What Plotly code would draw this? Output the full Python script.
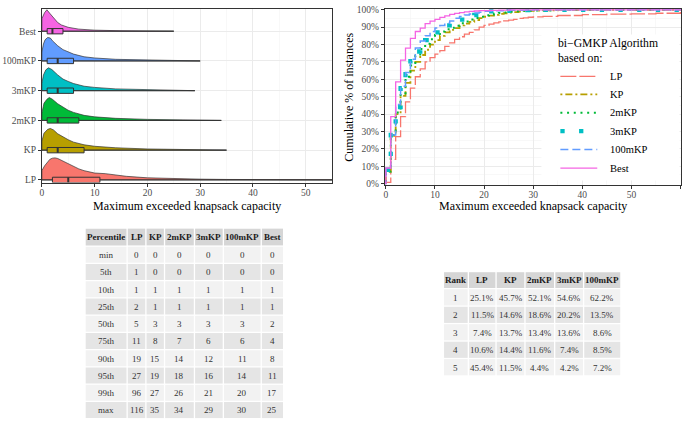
import plotly.graph_objects as go

W, H = 685, 425
SERIF = "Liberation Serif"

groups = ["LP", "KP", "2mKP", "3mKP", "100mKP", "Best"]
colors = ["#F8766D", "#B79F00", "#00BA38", "#00BFC4", "#619CFF", "#F564E3"]

# ---------------- percentile table ----------------
pct_labels = ["min", "5th", "10th", "25th", "50th", "75th", "90th", "95th", "99th", "max"]
pct_LP = [0, 1, 1, 2, 5, 11, 19, 27, 96, 116]
pct_KP = [0, 0, 1, 1, 3, 8, 15, 19, 27, 35]
pct_2mKP = [0, 0, 1, 1, 3, 7, 14, 18, 26, 34]
pct_3mKP = [0, 0, 1, 1, 3, 6, 12, 16, 21, 29]
pct_100mKP = [0, 0, 1, 1, 3, 6, 11, 14, 20, 30]
pct_Best = [0, 0, 1, 1, 2, 4, 8, 11, 17, 25]

# ---------------- rank table ----------------
rank_labels = ["1", "2", "3", "4", "5"]
rank_LP = ["25.1%", "11.5%", "7.4%", "10.6%", "45.4%"]
rank_KP = ["45.7%", "14.6%", "13.7%", "14.4%", "11.5%"]
rank_2mKP = ["52.1%", "18.6%", "13.4%", "11.6%", "4.4%"]
rank_3mKP = ["54.6%", "20.2%", "13.6%", "7.4%", "4.2%"]
rank_100mKP = ["62.2%", "13.5%", "8.6%", "8.5%", "7.2%"]

# ---------------- density ridges (height in units of row spacing) ----------------
dens_x_LP = [0, 0.5, 1, 1.5, 2, 2.5, 3, 4, 5, 6, 7, 8, 10, 12, 14, 16, 20, 25, 30, 35, 40, 50, 60]
dens_h_LP = [0.31, 0.47, 0.6, 0.69, 0.73, 0.74, 0.72, 0.63, 0.54, 0.45, 0.37, 0.31, 0.23, 0.21, 0.16,
             0.12, 0.07, 0.04, 0.025, 0.015, 0.01, 0.005, 0.003]
dens_x_KP = [0, 0.4, 1.1, 1.6, 2.2, 3, 4, 5, 6, 8, 10, 14, 20, 25, 30, 35]
dens_h_KP = [0.3, 0.57, 0.7, 0.73, 0.68, 0.55, 0.44, 0.35, 0.27, 0.18, 0.13, 0.08, 0.04, 0.02, 0.01, 0.0]
dens_x_2mKP = [0, 0.4, 0.95, 1.4, 2, 3, 4, 5, 6, 8, 10, 14, 20, 25, 30, 34]
dens_h_2mKP = [0.25, 0.58, 0.71, 0.77, 0.71, 0.56, 0.44, 0.34, 0.27, 0.17, 0.12, 0.07, 0.035, 0.018, 0.008, 0.0]
dens_x_3mKP = [0, 0.3, 0.75, 1.25, 1.9, 3, 4, 5, 6, 8, 10, 14, 20, 25, 29]
dens_h_3mKP = [0.25, 0.53, 0.7, 0.77, 0.71, 0.53, 0.39, 0.31, 0.24, 0.15, 0.11, 0.06, 0.03, 0.012, 0.0]
dens_x_100mKP = [0, 0.3, 0.6, 1.1, 1.6, 2, 3, 4, 5, 6, 8, 10, 14, 20, 25, 30]
dens_h_100mKP = [0.3, 0.57, 0.71, 0.79, 0.77, 0.68, 0.51, 0.38, 0.3, 0.23, 0.14, 0.1, 0.055, 0.025, 0.012, 0.0]
dens_x_Best = [0, 0.5, 0.95, 1.5, 2, 2.5, 3, 3.7, 5, 7, 10, 15, 20, 25]
dens_h_Best = [0.42, 0.62, 0.72, 0.6, 0.5, 0.38, 0.29, 0.21, 0.13, 0.07, 0.035, 0.015, 0.006, 0.0]

# ---------------- empirical CDFs (capacity, cumulative %) ----------------
ecdf_x_LP = [-1, 0, 1, 2, 3, 4, 5, 6, 7, 8, 9, 10, 11, 12, 13, 14, 15, 16, 17, 18, 19, 20, 21, 22, 23,
             24, 25, 26, 27, 28, 29, 30, 32, 35, 40, 45, 50, 55, 60, 96, 116]
ecdf_y_LP = [0, 0.8, 14, 27, 38.5, 47, 55, 61.5, 66, 70, 72.5, 74.5, 76.5, 79, 81, 83, 84.5, 86, 87,
             88.5, 90, 91, 91.8, 92.5, 93, 93.6, 94, 94.5, 95.1, 95.4, 95.7, 95.9, 96.2, 96.7, 97.2,
             97.5, 97.7, 98, 98.3, 99, 100]
ecdf_x_KP = [-1, 0, 1, 2, 3, 4, 5, 6, 7, 8, 9, 10, 11, 12, 13, 14, 15, 16, 17, 18, 19, 20, 21, 22, 23,
             24, 25, 26, 27, 28, 29, 30, 32, 35, 70]
ecdf_y_KP = [0, 7, 27.5, 40, 50.5, 58, 65, 70, 74, 77, 80, 82.5, 85, 87, 88.5, 89.5, 91, 92, 93, 94,
             95.2, 96, 96.6, 97.1, 97.6, 98, 98.4, 98.7, 99, 99.2, 99.4, 99.5, 99.7, 100, 100]
ecdf_x_2mKP = [-1, 0, 1, 2, 3, 4, 5, 6, 7, 8, 9, 10, 11, 12, 13, 14, 15, 16, 17, 18, 19, 20, 21, 22,
               23, 24, 25, 26, 28, 30, 34, 70]
ecdf_y_2mKP = [0, 7, 28, 41, 52, 61.5, 68, 73.5, 77.5, 80.5, 83, 85.5, 87.5, 88.8, 89.6, 90.8, 92.2,
               93.3, 94.4, 95.3, 96, 96.8, 97.3, 97.8, 98.2, 98.5, 98.8, 99.1, 99.4, 99.6, 100, 100]
ecdf_x_3mKP = [-1, 0, 1, 2, 3, 4, 5, 6, 7, 8, 9, 10, 11, 12, 13, 14, 15, 16, 17, 18, 19, 20, 21, 23,
               25, 27, 29, 70]
ecdf_y_3mKP = [0, 8, 28, 44, 55, 63, 70.5, 76, 79.5, 82.5, 85, 87, 89, 91, 92.3, 93.3, 94.3, 95.3,
               96.2, 97, 97.7, 98.3, 99.1, 99.4, 99.6, 99.8, 100, 100]
ecdf_x_100mKP = [-1, 0, 1, 2, 3, 4, 5, 6, 7, 8, 9, 10, 11, 12, 13, 14, 15, 16, 17, 18, 19, 20, 22,
                 25, 30, 70]
ecdf_y_100mKP = [0, 9, 28, 45.5, 56, 64, 71.5, 78, 82, 85, 87.5, 89.5, 91, 92.3, 93.5, 95.2, 96.2,
                 97, 97.6, 98.1, 98.6, 99.1, 99.4, 99.7, 100, 100]
ecdf_x_Best = [-1, 0, 1, 2, 3, 4, 5, 6, 7, 8, 9, 10, 11, 12, 13, 14, 15, 16, 17, 18, 19, 21, 23, 25, 70]
ecdf_y_Best = [0, 9, 38.5, 58.5, 71, 78, 83.5, 87.5, 89.5, 92, 93.5, 94.5, 95.6, 96.5, 97.3, 97.9,
               98.4, 98.8, 99.1, 99.3, 99.5, 99.7, 99.85, 100, 100]

pct_all = [pct_LP, pct_KP, pct_2mKP, pct_3mKP, pct_100mKP, pct_Best]
dens_all = [(dens_x_LP, dens_h_LP), (dens_x_KP, dens_h_KP), (dens_x_2mKP, dens_h_2mKP),
            (dens_x_3mKP, dens_h_3mKP), (dens_x_100mKP, dens_h_100mKP), (dens_x_Best, dens_h_Best)]
ecdf_all = [(ecdf_x_LP, ecdf_y_LP), (ecdf_x_KP, ecdf_y_KP), (ecdf_x_2mKP, ecdf_y_2mKP),
            (ecdf_x_3mKP, ecdf_y_3mKP), (ecdf_x_100mKP, ecdf_y_100mKP), (ecdf_x_Best, ecdf_y_Best)]

line_styles = [
    dict(dash="16px,3px", width=1.3),
    dict(dash="2px,3px,7px,3px", width=1.8),
    dict(dash="2px,4.7px", width=2),
    dict(dash="4.3px,14.4px", width=4.3),
    dict(dash="8px,4px", width=1.5),
    dict(dash="solid", width=1.3),
]

OUT = "#333333"
BOXH = 0.09


def PX(x):
    return x / W


def PY(y):
    return 1 - y / H


fig = go.Figure()

# ---- ridges ----
for i in range(len(groups) - 1, -1, -1):
    dx, dh = dens_all[i]
    xs = [dx[0]] + dx + [dx[-1], dx[0]]
    ys = [i] + [i + h for h in dh] + [i, i]
    fig.add_trace(go.Scatter(x=xs, y=ys, mode="lines", fill="toself", fillcolor=colors[i],
                             line=dict(color=OUT, width=0.7), showlegend=False,
                             xaxis="x", yaxis="y"))
# ---- boxes ----
for i, g in enumerate(groups):
    p = pct_all[i]
    fig.add_trace(go.Scatter(x=[p[0], p[9]], y=[i, i], mode="lines",
                             line=dict(color=OUT, width=1), showlegend=False, xaxis="x", yaxis="y"))
    fig.add_trace(go.Scatter(x=[p[3], p[5], p[5], p[3], p[3]],
                             y=[i - BOXH, i - BOXH, i + BOXH, i + BOXH, i - BOXH],
                             mode="lines", fill="toself", fillcolor=colors[i],
                             line=dict(color=OUT, width=1), showlegend=False, xaxis="x", yaxis="y"))
    fig.add_trace(go.Scatter(x=[p[4], p[4]], y=[i - BOXH, i + BOXH], mode="lines",
                             line=dict(color=OUT, width=2), showlegend=False, xaxis="x", yaxis="y"))

# ---- ECDFs ----
for i, g in enumerate(groups):
    ex, ey = ecdf_all[i]
    fig.add_trace(go.Scatter(x=ex, y=ey, mode="lines", name=g, showlegend=False,
                             line=dict(color=colors[i], shape="hv", **line_styles[i]),
                             xaxis="x2", yaxis="y2"))

shapes = []
annotations = []

# ---- manual legend ----
shapes.append(dict(type="rect", xref="paper", yref="paper", x0=PX(541), x1=PX(679.5),
                   y0=PY(180), y1=PY(31), fillcolor="white", line=dict(width=0), layer="above"))
annotations.append(dict(text="bi\u2212GMKP Algorithm<br>based on:", x=PX(556), y=PY(48.3),
                        xref="paper", yref="paper", align="left",
                        showarrow=False, xanchor="left", yanchor="middle",
                        font=dict(family=SERIF, size=11.7, color="black")))
leg_y = [73.7, 92.2, 110.8, 129.6, 148.2, 167.2]
for i, g in enumerate(groups):
    shapes.append(dict(type="line", xref="paper", yref="paper", x0=PX(560), x1=PX(597),
                       y0=PY(leg_y[i]), y1=PY(leg_y[i]), layer="above",
                       line=dict(color=colors[i], **line_styles[i])))
    annotations.append(dict(text=g, x=PX(607.5), y=PY(leg_y[i]), xref="paper", yref="paper",
                            showarrow=False, xanchor="left", yanchor="middle",
                            font=dict(family=SERIF, size=10.5, color="black")))


# ---- manual tables ----
def draw_table(col_edges, top, head_h, row_h, header, columns):
    nrows = len(columns[0])
    row_tops = [top, top + head_h] + [top + head_h + row_h * (k + 1) for k in range(nrows)]
    gap = 0.65
    for r in range(nrows + 1):
        y0, y1 = row_tops[r], row_tops[r + 1]
        if r == 0:
            fill = "#D6D6D6"
        else:
            fill = "#F2F2F2" if (r - 1) % 2 == 0 else "#E5E5E5"
        for c in range(len(col_edges) - 1):
            x0, x1 = col_edges[c], col_edges[c + 1]
            shapes.append(dict(type="rect", xref="paper", yref="paper",
                               x0=PX(x0 + gap), x1=PX(x1 - gap), y0=PY(y1 - gap), y1=PY(y0 + gap),
                               fillcolor=fill, line=dict(width=0), layer="above"))
            if r == 0:
                txt = "<b>%s</b>" % header[c]
                col = "#1a1a1a"
            else:
                txt = str(columns[c][r - 1])
                col = "#333333"
            annotations.append(dict(text=txt, x=PX((x0 + x1) / 2), y=PY((y0 + y1) / 2 + 0.3),
                                    xref="paper", yref="paper", showarrow=False,
                                    xanchor="center", yanchor="middle",
                                    font=dict(family=SERIF, size=9, color=col)))


draw_table([83.3, 125.5, 144.3, 163, 193, 222, 260, 282.5], 228.3, 18.4, 17.6,
           ["Percentile"] + groups, [pct_labels] + pct_all)
draw_table([442.7, 467.7, 495.5, 524.5, 554.3, 583.3, 620.7], 272.7, 17.4, 17.8,
           ["Rank"] + groups[:5], [rank_labels, rank_LP, rank_KP, rank_2mKP, rank_3mKP, rank_100mKP])

# ---- axis titles ----
annotations += [
    dict(text="Maximum exceeded knapsack capacity", x=PX((40 + 331) / 2), y=PY(205.5),
         xref="paper", yref="paper", showarrow=False, xanchor="center", yanchor="middle",
         font=dict(family=SERIF, size=12, color="black")),
    dict(text="Maximum exceeded knapsack capacity", x=PX((384 + 681) / 2), y=PY(205.8),
         xref="paper", yref="paper", showarrow=False, xanchor="center", yanchor="middle",
         font=dict(family=SERIF, size=12, color="black")),
    dict(text="Cumulative % of instances", x=PX(348), y=PY(94.5), textangle=-90,
         xref="paper", yref="paper", showarrow=False, xanchor="center", yanchor="middle",
         font=dict(family=SERIF, size=12, color="black")),
]

axis_common = dict(showline=True, mirror=True, linecolor=OUT, linewidth=1, ticks="outside",
                   ticklen=3, tickcolor=OUT, tickfont=dict(family=SERIF, size=9.5, color="#4D4D4D"),
                   zeroline=False, gridcolor="#EBEBEB", gridwidth=1)

fig.update_layout(
    width=W, height=H, margin=dict(l=0, r=0, t=0, b=0),
    paper_bgcolor="white", plot_bgcolor="white", hovermode=False, showlegend=False,
    font=dict(family=SERIF, color="black"),
    xaxis=dict(domain=[PX(40), PX(331)], range=[0, 55], dtick=10, anchor="y",
               ticklabelstandoff=-2,
               minor=dict(dtick=5, showgrid=True, gridcolor="#F4F4F4", gridwidth=0.6, ticklen=0),
               **axis_common),
    yaxis=dict(domain=[PY(182), PY(5)], range=[-0.09, 5.75], anchor="x",
               tickvals=list(range(len(groups))), ticktext=groups, **axis_common),
    xaxis2=dict(domain=[PX(384), PX(681)], range=[-0.2, 60.1], dtick=10, anchor="y2",
                ticklabelstandoff=-2,
                minor=dict(dtick=5, showgrid=True, gridcolor="#F4F4F4", gridwidth=0.6, ticklen=0),
                **axis_common),
    yaxis2=dict(domain=[PY(184), PY(5)], range=[-0.5, 100.5], dtick=10, ticksuffix="%",
                anchor="x2",
                minor=dict(dtick=5, showgrid=True, gridcolor="#F4F4F4", gridwidth=0.6, ticklen=0),
                **axis_common),
    shapes=shapes,
    annotations=annotations,
)

fig.write_html("out.html", config={"displayModeBar": False, "staticPlot": True},
               post_script="document.body.style.margin='0px';")
